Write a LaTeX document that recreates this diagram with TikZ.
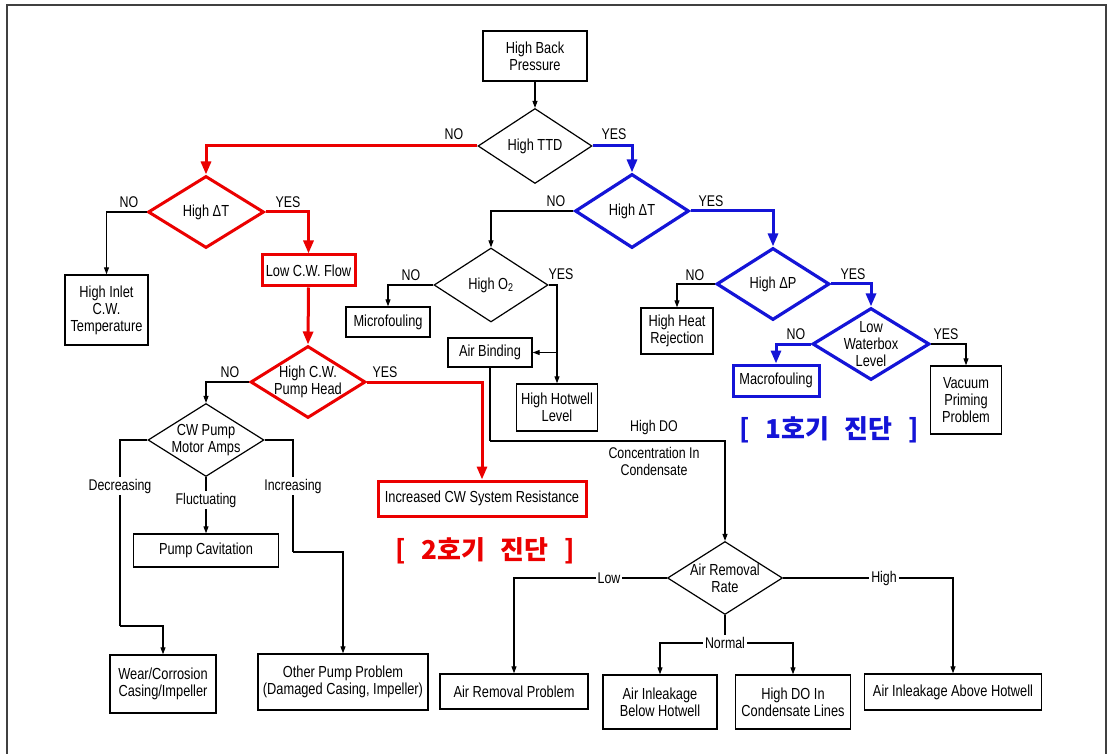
\documentclass[tikz,border=0pt]{standalone}
\usepackage{fontspec}
\setmainfont{Liberation Sans}[FakeStretch=0.8]
\newfontfamily\krfont{Noto Sans CJK KR}
\usetikzlibrary{shapes.geometric,arrows.meta}
\definecolor{myred}{RGB}{235,0,0}
\definecolor{myblue}{RGB}{20,20,215}
\tikzset{
  every node/.style={font=\fontsize{16}{17}\selectfont, align=center},
  box/.style={draw, line width=1.4pt, inner sep=0pt},
  rbox/.style={draw=myred, line width=3pt, inner sep=0pt},
  bbox/.style={draw=myblue, line width=3pt, inner sep=0pt},
  dia/.style={draw, diamond, inner sep=0pt, line width=1.2pt},
  rdia/.style={draw=myred, diamond, inner sep=0pt, line width=3pt},
  bdia/.style={draw=myblue, diamond, inner sep=0pt, line width=3.2pt},
  arr/.style={-{Triangle[length=7pt,width=5pt]}, line width=1.1pt},
  ln/.style={line width=1.1pt},
  rarr/.style={-{Triangle[length=13pt,width=10pt]}, draw=myred, line width=3pt},
  barr/.style={-{Triangle[length=13pt,width=10pt]}, draw=myblue, line width=3pt},
  lab/.style={font=\fontsize{15.5}{17}\selectfont, inner sep=1pt},
  wlab/.style={lab, fill=white, inner sep=2pt},
  kr/.style={font=\krfont\bfseries\fontsize{26}{30}\selectfont}
}
\begin{document}
\begin{tikzpicture}[x=1pt,y=-1pt]
\useasboundingbox (0,0) rectangle (1112,754);
\fill[white] (0,0) rectangle (1112,754);
\draw[line width=1.5pt, black!75] (7,754) -- (7,5) -- (1106,5) -- (1106,754);

% boxes
\node[box, minimum width=104pt, minimum height=50pt] (hbp) at (535,56) {High Back\\Pressure};
\node[box, minimum width=83pt, minimum height=70pt] (inlet) at (106.5,310) {High Inlet\\C.W.\\Temperature};
\node[rbox, minimum width=93pt, minimum height=31pt] (lowflow) at (308.5,270.5) {Low C.W. Flow};
\node[box, minimum width=84pt, minimum height=30pt] (micro) at (388,322) {Microfouling};
\node[box, minimum width=84pt, minimum height=29pt] (airb) at (490,352.5) {Air Binding};
\node[box, minimum width=81pt, minimum height=47pt] (hotwell) at (557,407.5) {High Hotwell\\Level};
\node[box, minimum width=72pt, minimum height=46pt] (heat) at (677,331) {High Heat\\Rejection};
\node[bbox, minimum width=86pt, minimum height=31pt] (macro) at (776,380.5) {Macrofouling};
\node[box, minimum width=71pt, minimum height=68pt] (vac) at (966,400) {Vacuum\\Priming\\Problem};
\node[rbox, minimum width=208pt, minimum height=35pt] (incr) at (482,498.5) {Increased CW System Resistance};
\node[box, minimum width=145pt, minimum height=33pt] (cav) at (206,550.5) {Pump Cavitation};
\node[box, minimum width=106pt, minimum height=58pt] (wear) at (163,684) {Wear/Corrosion\\Casing/Impeller};
\node[box, minimum width=170pt, minimum height=56pt] (other) at (343,682) {Other Pump Problem\\(Damaged Casing, Impeller)};
\node[box, minimum width=148pt, minimum height=35pt] (arp) at (514,691.5) {Air Removal Problem};
\node[box, minimum width=114pt, minimum height=54pt] (below) at (660,702) {Air Inleakage\\Below Hotwell};
\node[box, minimum width=115pt, minimum height=54pt] (hdo) at (793,702) {High DO In\\Condensate Lines};
\node[box, minimum width=177pt, minimum height=36pt] (above) at (953,692) {Air Inleakage Above Hotwell};

% diamonds
\node[dia, minimum width=114pt, minimum height=75pt] (ttd) at (535,146) {};
\node (ttdT) at (ttd) {High TTD};
\node[rdia, minimum width=116pt, minimum height=72pt] (dT1) at (206,212) {};
\node (dT1T) at (dT1) {High ΔT};
\node[bdia, minimum width=114pt, minimum height=74pt] (dT2) at (632,211) {};
\node (dT2T) at (dT2) {High ΔT};
\node[rdia, minimum width=115pt, minimum height=72pt] (ph) at (308,382) {};
\node (phT) at (ph) {High C.W.\\Pump Head};
\node[dia, minimum width=116pt, minimum height=73pt] (amps) at (206,440) {};
\node (ampsT) at (amps) {CW Pump\\Motor Amps};
\node[dia, minimum width=114pt, minimum height=74pt] (o2) at (491,285) {};
\node (o2T) at (o2) {High O\textsubscript{2}};
\node[bdia, minimum width=113pt, minimum height=72pt] (dP) at (773,284) {};
\node (dPT) at (dP) {High ΔP};
\node[bdia, minimum width=117pt, minimum height=72pt] (wb) at (871,344) {};
\node (wbT) at (wb) {Low\\Waterbox\\Level};
\node[dia, minimum width=115pt, minimum height=73pt] (rate) at (725,578) {};
\node (rateT) at (rate) {Air Removal\\Rate};

% Korean labels
\node[kr, text=myblue] (k1) at (829,430) {[\hspace{0.6em}1호기\hspace{0.6em}진단\hspace{0.6em}]};
\node[kr, text=myred] (k2) at (485,551) {[\hspace{0.6em}2호기\hspace{0.6em}진단\hspace{0.6em}]};

% bend coordinates
\coordinate (cD) at (120,626);
\coordinate (cI) at (293,552);
\coordinate (cDO) at (490,441);
\coordinate (cN) at (725,643);

% connectors
\draw[arr] (hbp) -- (ttd.north);
\draw[rarr] (ttd.west) -| (dT1.north);
\draw[barr] (ttd.east) -| (dT2.north);
\draw[arr] (dT1.west) -| (inlet.north);
\draw[rarr] (dT1.east) -| (lowflow.north);
\draw[rarr] (lowflow.south) -- (ph.north);
\draw[arr] (ph.west) -| (amps.north);
\draw[rarr] (ph.east) -| (incr.north);
\draw[ln] (amps.west) -| (cD);
\draw[arr] (cD) -| (wear.north);
\draw[ln] (amps.east) -| (cI);
\draw[arr] (cI) -| (other.north);
\draw[arr] (amps.south) -- (cav.north);
\draw[arr] (dT2.west) -| (o2.north);
\draw[barr] (dT2.east) -| (dP.north);
\draw[arr] (o2.west) -| (micro.north);
\draw[arr] (o2.east) -| (hotwell.north);
\draw[arr] (hotwell.north |- airb.east) -- (airb.east);
\draw[ln] (airb.south) -- (cDO);
\draw[arr] (cDO) -| (rate.north);
\draw[arr] (dP.west) -| (heat.north);
\draw[barr] (dP.east) -| (wb.north);
\draw[barr] (wb.west) -| (macro.north);
\draw[arr] (wb.east) -| (vac.north);
\draw[arr] (rate.west) -| (arp.north);
\draw[arr] (rate.east) -| (above.north);
\draw[ln] (rate.south) -- (cN);
\draw[arr] (cN) -| (below.north);
\draw[arr] (cN) -| (hdo.north);

% branch labels
\node[lab] (l1) at (454,134) {NO};
\node[lab] (l2) at (614,134) {YES};
\node[lab] (l3) at (129,202) {NO};
\node[lab] (l4) at (288,202) {YES};
\node[lab] (l5) at (556,201) {NO};
\node[lab] (l6) at (711,201) {YES};
\node[lab] (l7) at (230,372) {NO};
\node[lab] (l8) at (385,372) {YES};
\node[lab] (l9) at (411,275) {NO};
\node[lab] (l10) at (561,274) {YES};
\node[lab] (l11) at (695,275) {NO};
\node[lab] (l12) at (853,274) {YES};
\node[lab] (l13) at (796,334) {NO};
\node[lab] (l14) at (946,334) {YES};
\node[wlab] (l15) at (120,486) {Decreasing};
\node[wlab] (l16) at (293,486) {Increasing};
\node[wlab] (l17) at (206,500) {Fluctuating};
\node[wlab] (l18) at (609,578) {Low};
\node[wlab] (l19) at (884,578) {High};
\node[wlab] (l20) at (cN) {Normal};
\node[lab] (l21) at (654,427) {High DO};
\node[lab] (l22) at (654,461) {Concentration In\\Condensate};
\end{tikzpicture}
\end{document}
